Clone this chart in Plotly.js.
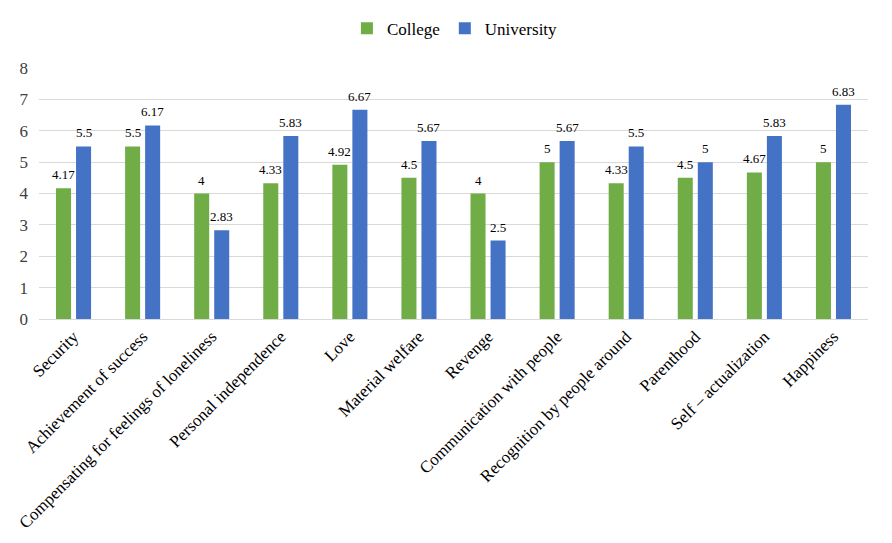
<!DOCTYPE html>
<html><head><meta charset="utf-8">
<script src="https://cdn.plot.ly/plotly-3.0.1.min.js"></script>
<style>html,body{margin:0;padding:0;background:#fff}</style>
</head><body><div id="chart" style="width:892px;height:543px"></div>
<script>
const categories = ["Security","Achievement of success","Compensating for feelings of loneliness","Personal independence","Love","Material welfare","Revenge","Communication with people","Recognition by people around","Parenthood","Self – actualization","Happiness"];
const college = [4.17,5.5,4,4.33,4.92,4.5,4,5,4.33,4.5,4.67,5];
const university = [5.5,6.17,2.83,5.83,6.67,5.67,2.5,5.67,5.5,5,5.83,6.83];
const yTicks = [0,1,2,3,4,5,6,7,8];

const fam = "Liberation Serif";
function tr(name, y, color){
  return {type:"bar", name:name, x:categories, y:y, marker:{color:color}, hoverinfo:"none"};
}
const data = [tr("College", college, "#70ad47"), tr("University", university, "#4472c4")];
const annotations = [];
[[college,-10],[university,10]].forEach(([vals,dx])=>{
  vals.forEach((v,i)=>annotations.push({x:categories[i], y:v, xref:"x", yref:"y", text:String(v),
    showarrow:false, yanchor:"bottom", xanchor:"center", xshift:dx, yshift:4,
    font:{family:fam, size:13, color:"#000"}}));
});
const layout = {
  width:892, height:543,
  margin:{l:39, r:24, t:68, b:224, autoexpand:false},
  paper_bgcolor:"#fff", plot_bgcolor:"#fff",
  font:{family:fam, size:16, color:"#000"},
  bargap:0.42, bargroupgap:0.25,
  annotations:annotations,
  showlegend:true,
  legend:{orientation:"h", xref:"container", yref:"container", x:0.51, xanchor:"center", y:0.947, yanchor:"middle", font:{family:fam, size:17, color:"#000"}, itemwidth:30},
  xaxis:{tickangle:-45, tickfont:{family:fam, size:17, color:"#000"}, showgrid:false, showline:true, linecolor:"#d9d9d9", ticks:"", automargin:false},
  yaxis:{range:[0,8], tickvals:yTicks, ticktext:yTicks.map(String), gridcolor:"#d9d9d9", zeroline:false, showline:false, ticks:"", tickfont:{family:fam, size:17, color:"#404040"}, automargin:false, ticklabelstandoff:10}
};
Plotly.newPlot("chart", data, layout, {staticPlot:true});
</script></body></html>
